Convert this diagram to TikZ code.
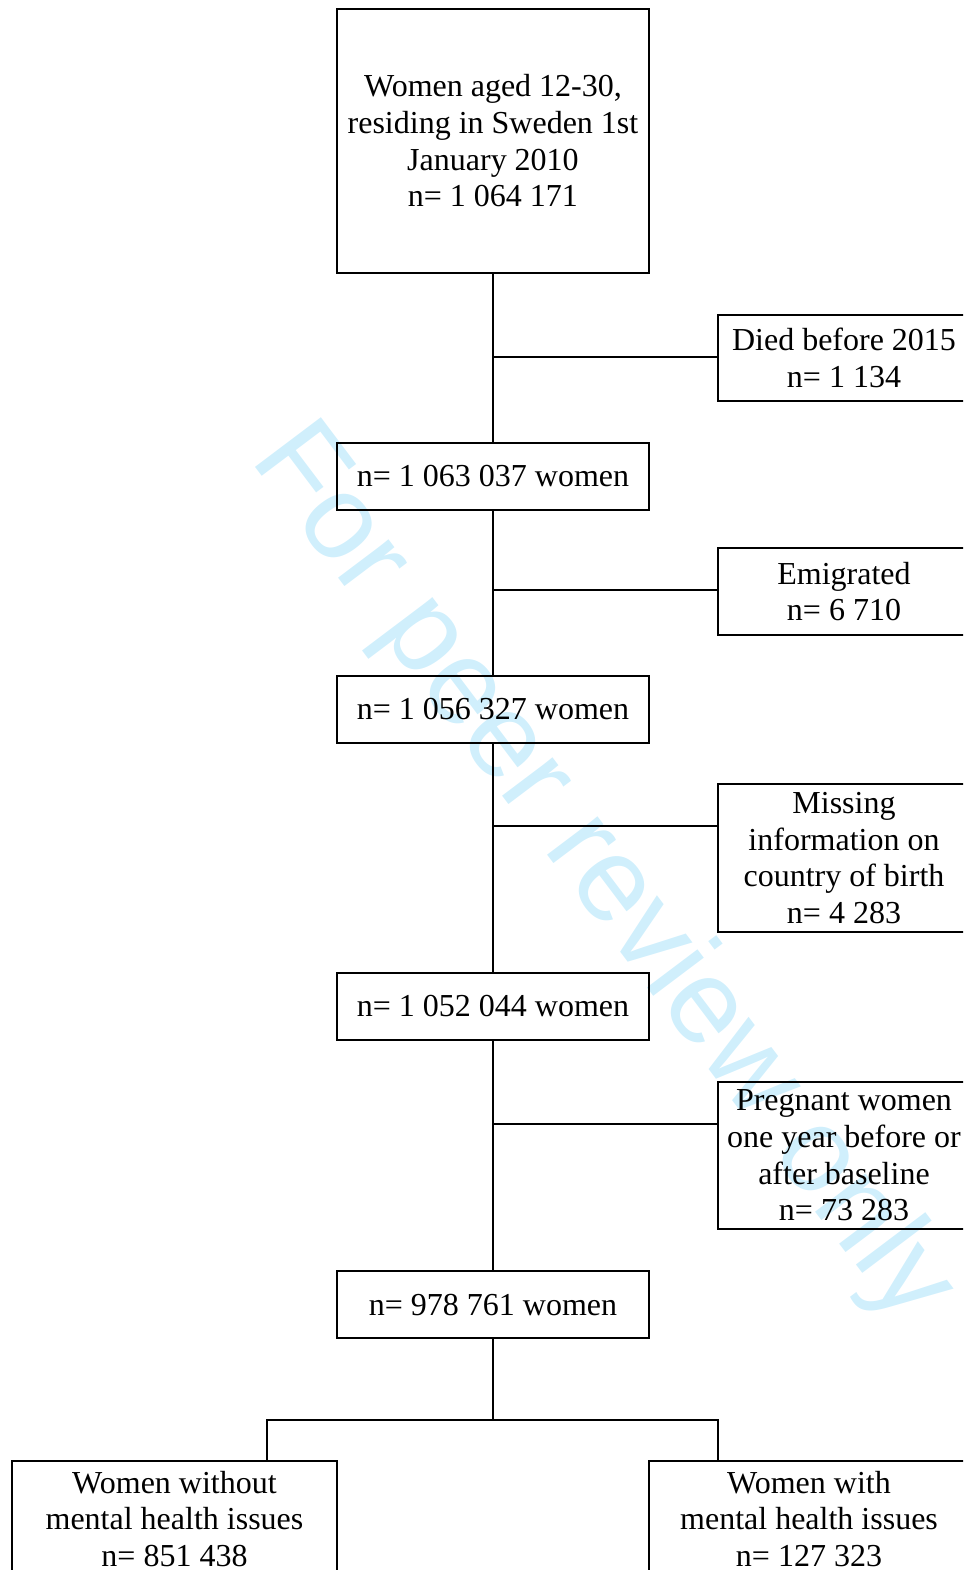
\documentclass[tikz,border=0pt]{standalone}
\usepackage{fontspec}
\setmainfont{Liberation Serif}
\newfontfamily\wmfont{Liberation Sans}
\definecolor{wmblue}{RGB}{208,239,252}
\begin{document}
\begin{tikzpicture}[x=1pt,y=-1pt,
  box/.style={draw,line width=2pt,align=center,inner sep=0pt,
    font=\fontsize{32}{36.7}\selectfont},
  mainbox/.style={box,minimum width=312pt,minimum height=67pt},
  sidebox/.style={box,minimum width=252pt},
  link/.style={line width=2pt}]
\useasboundingbox (0,0) rectangle (963,1570);
\clip (0,0) rectangle (963,1570);
\node[text=wmblue,font=\wmfont\fontsize{120}{120}\selectfont,rotate=-53] (wm) at (601,875) {For peer review only};
\node[mainbox,minimum height=264pt] (top) at (493,141) {Women aged 12-30,\\residing in Sweden 1st\\January 2010\\n= 1 064 171};
\node[mainbox] (b2) at (493,476.5) {n= 1 063 037 women};
\node[mainbox] (b3) at (493,709.5) {n= 1 056 327 women};
\node[mainbox] (b4) at (493,1006.5) {n= 1 052 044 women};
\node[mainbox] (b5) at (493,1304.5) {n= 978 761 women};
\node[sidebox,minimum height=86pt] (d1) at (844,358) {Died before 2015\\n= 1 134};
\node[sidebox,minimum height=87pt] (d2) at (844,591.5) {Emigrated\\n= 6 710};
\node[sidebox,minimum height=148pt] (d3) at (844,858) {Missing\\information on\\country of birth\\n= 4 283};
\node[sidebox,minimum height=147pt] (d4) at (844,1155.5) {Pregnant women\\one year before or\\after baseline\\n= 73 283};
\node[box,minimum width=325pt,minimum height=116pt] (bl) at (174.5,1519) {Women without\\mental health issues\\n= 851 438};
\node[box,minimum width=320pt,minimum height=116pt] (br) at (809,1519) {Women with\\mental health issues\\n= 127 323};
\draw[link] (top.south) -- (b2.north);
\draw[link] (b2.south) -- (b3.north);
\draw[link] (b3.south) -- (b4.north);
\draw[link] (b4.south) -- (b5.north);
\coordinate (j1) at ([yshift=-43pt]d1.north west);
\coordinate (j2) at ([yshift=-43pt]d2.north west);
\coordinate (j3) at ([yshift=-43pt]d3.north west);
\coordinate (j4) at ([yshift=-43pt]d4.north west);
\draw[link] (j1) -- (j1 -| top.south);
\draw[link] (j2) -- (j2 -| b2.south);
\draw[link] (j3) -- (j3 -| b3.south);
\draw[link] (j4) -- (j4 -| b4.south);
\coordinate (split) at (493,1420);
\coordinate (bla) at (267,1461);
\coordinate (bra) at (718,1461);
\draw[link] (b5.south) -- (split);
\draw[link] (bla) |- (split) -| (bra);
\end{tikzpicture}
\end{document}
